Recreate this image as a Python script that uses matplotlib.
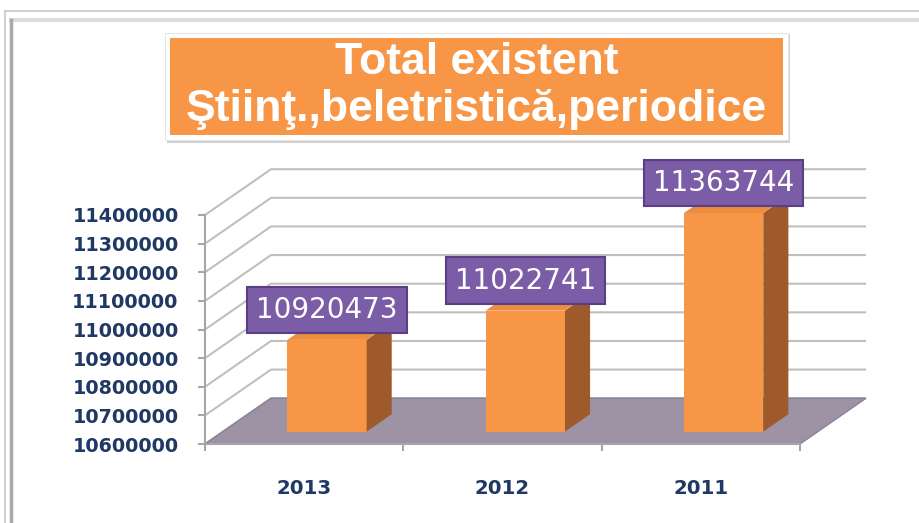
import matplotlib
matplotlib.use('Agg')
import matplotlib.pyplot as plt
from matplotlib.patches import Polygon, Rectangle
from matplotlib.lines import Line2D

categories = ['2013', '2012', '2011']
values = [10920473, 11022741, 11363744]
y_ticks = [10600000, 10700000, 10800000, 10900000, 11000000,
           11100000, 11200000, 11300000, 11400000]
title_lines = ['Total existent', 'Ştiinţ.,beletristică,periodice']

W, H, DPI = 919, 523, 100
fig = plt.figure(figsize=(W / DPI, H / DPI), dpi=DPI)
fig.patch.set_facecolor('white')

# ---- outer screenshot frame ----
fig.add_artist(Line2D([5 / W, 1], [1 - 11 / H, 1 - 11 / H], color='#C8C8C8', lw=1.2, transform=fig.transFigure))
fig.add_artist(Line2D([5 / W, 5 / W], [0, 1 - 11 / H], color='#C8C8C8', lw=1.2, transform=fig.transFigure))
fig.add_artist(Line2D([11 / W, 1], [1 - 20 / H, 1 - 20 / H], color='#DCDCDC', lw=3, transform=fig.transFigure))
fig.add_artist(Line2D([11 / W, 11 / W], [0, 1 - 20 / H], color='#A8A8A8', lw=2.5, transform=fig.transFigure))

# ---- axes (front plane) ----
ax = fig.add_axes([205 / W, (H - 444) / H, 595 / W, 229 / H])
ymin, ymax = y_ticks[0], y_ticks[-1]
x0, x1 = -0.5, len(categories) - 0.5
ax.set_xlim(x0, x1)
ax.set_ylim(ymin, ymax)
ax.patch.set_visible(False)

DX = 0.333     # depth, category units
DY = 160000    # depth, value units
F0, F1 = 0.27, 0.65
BW = 0.40
XSHIFT = 0.025
grid_c = '#BFBFBF'

for v in y_ticks:
    ax.plot([x0, x0 + DX, x1 + DX], [v, v + DY, v + DY], color=grid_c, lw=1.5,
            clip_on=False, zorder=1, solid_capstyle='butt')

floor = Polygon([(x0, ymin), (x1, ymin), (x1 + DX, ymin + DY), (x0 + DX, ymin + DY)],
                closed=True, fc='#9D93A5', ec='#8A8194', lw=1.0, clip_on=False, zorder=2)
ax.add_patch(floor)

for i, v in enumerate(values):
    xc = i + F0 * DX + XSHIFT
    bot = ymin + F0 * DY
    top = v + F0 * DY
    ax.bar(xc, top - bot, bottom=bot, width=BW, color='#F79646', zorder=4, clip_on=False)
    xl, xr = xc - BW / 2, xc + BW / 2
    ddx, ddy = (F1 - F0) * DX, (F1 - F0) * DY
    ax.add_patch(Polygon([(xr, bot), (xr, top), (xr + ddx, top + ddy), (xr + ddx, bot + ddy)],
                         closed=True, fc='#9E5A2B', ec='none', zorder=4, clip_on=False))
    ax.add_patch(Polygon([(xl, top), (xr, top), (xr + ddx, top + ddy), (xl + ddx, top + ddy)],
                         closed=True, fc='#EC8D3F', ec='none', zorder=4, clip_on=False))
    ax.annotate(f'{v}', xy=(xc, top), xytext=(0, 30), textcoords='offset pixels',
                ha='center', va='center', fontsize=20, color='white', family='DejaVu Sans',
                bbox=dict(boxstyle='square,pad=0.33', fc='#7B5CA6', ec='#5A3E86', lw=1.5),
                zorder=6, annotation_clip=False)

for side in ('top', 'right'):
    ax.spines[side].set_visible(False)
for side in ('left', 'bottom'):
    ax.spines[side].set_color('#A6A6A6')
    ax.spines[side].set_linewidth(1.5)

ax.set_yticks(y_ticks)
ax.set_yticklabels([str(t) for t in y_ticks])
ax.tick_params(axis='y', length=5, width=1.5, color='#A6A6A6', pad=14,
               labelcolor='#1F3864', labelsize=13.8)
for lab in ax.get_yticklabels():
    lab.set_fontweight('bold')

ax.set_xticks(range(len(categories)))
ax.set_xticklabels(categories)
ax.set_xticks([x0 + k for k in range(len(categories) + 1)], minor=True)
ax.tick_params(axis='x', which='major', length=0, pad=25, labelcolor='#1F3864', labelsize=14.2)
ax.tick_params(axis='x', which='minor', length=5, width=1.5, color='#A6A6A6')
for lab in ax.get_xticklabels():
    lab.set_fontweight('bold')

# ---- title box ----
bx, by, bw, bh = 170, 38, 613, 97
fig.add_artist(Rectangle(((bx - 3) / W, 1 - (by + bh + 8) / H), (bw + 10) / W, (bh + 12) / H,
                         transform=fig.transFigure, fc='#D0D0D0', ec='none', zorder=1))
fig.add_artist(Rectangle(((bx - 5) / W, 1 - (by + bh + 5) / H), (bw + 10) / W, (bh + 10) / H,
                         transform=fig.transFigure, fc='white', ec='#E6E6E6', lw=0.8, zorder=2))
fig.add_artist(Rectangle((bx / W, 1 - (by + bh) / H), bw / W, bh / H,
                         transform=fig.transFigure, fc='#F79646', ec='none', zorder=3))
cx = (bx + bw / 2) / W
fig.text(cx, 1 - 62 / H, title_lines[0], ha='center', va='center', fontsize=32,
         fontweight='bold', color='white', family='Liberation Sans', zorder=4)
fig.text(cx, 1 - 110 / H, title_lines[1], ha='center', va='center', fontsize=32,
         fontweight='bold', color='white', family='Liberation Sans', zorder=4)

fig.savefig('out.png', dpi=DPI, facecolor='white')
